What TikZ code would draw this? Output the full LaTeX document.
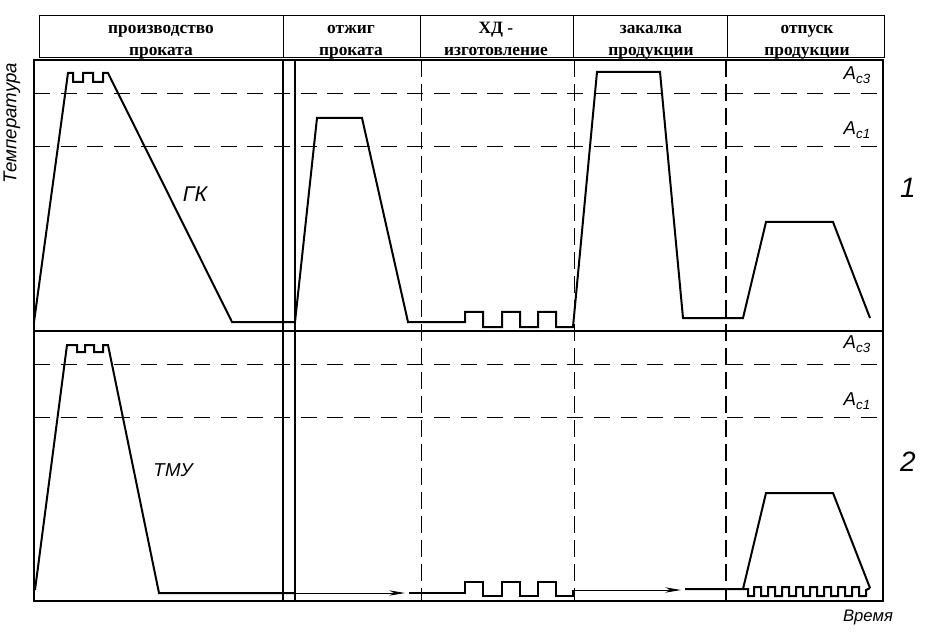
\documentclass[tikz,border=0pt]{standalone}
\usepackage{fontspec}
\setmainfont{Liberation Serif}
\newfontfamily\gostfont{Liberation Sans}
\usetikzlibrary{arrows.meta}

\begin{document}
\begin{tikzpicture}[x=0.75pt,y=-0.75pt,
  framebox/.style={line width=1.5pt},
  headbox/.style={line width=0.75pt},
  curve/.style={line width=1.5pt, line join=miter},
  thinline/.style={line width=0.6pt},
  flowtip/.style={-{Stealth[length=12pt,width=4pt]}},
  hdash/.style={line width=0.6pt, dash pattern=on 12pt off 8pt},
  vdash/.style={line width=0.6pt, dash pattern=on 13pt off 5pt},
  vdashbold/.style={line width=1.3pt, dash pattern=on 13pt off 5pt},
  headtext/.style={font=\fontsize{13}{16.5}\selectfont\bfseries, align=center, inner sep=0pt, anchor=north},
  gost/.style={font=\gostfont\itshape\fontsize{14}{16}\selectfont, inner sep=0pt},
  acpoint/.style={font=\gostfont\itshape\fontsize{14}{16}\selectfont, inner sep=0pt}
]
\useasboundingbox (0,0) rectangle (934,634);

% header
\draw[headbox] (39,16) rectangle (884,58);
\foreach \x in {283,420,573,727}
  \draw[headbox] (\x,16) -- (\x,58);
\node[headtext] (hprod)  at (161,17.6) {\strut производство\\\strut проката};
\node[headtext] (hotzh)  at (351,17.6) {\strut отжиг\\\strut проката};
\node[headtext] (hhd)    at (496,17.6) {\strut ХД -\\\strut изготовление};
\node[headtext] (hzak)   at (651,17.6) {\strut закалка\\\strut продукции};
\node[headtext] (hotp)   at (807,17.6) {\strut отпуск\\\strut продукции};

% critical points
\foreach \y in {93,146,364,417}
  \draw[hdash] (34,\y) -- (883,\y);
\node[acpoint] (ac3a) at (857,75)  {A\raisebox{-0.45ex}{\fontsize{10}{11}\selectfont c3}};
\node[acpoint] (ac1a) at (857,130) {A\raisebox{-0.45ex}{\fontsize{10}{11}\selectfont c1}};
\node[acpoint] (ac3b) at (857,344) {A\raisebox{-0.45ex}{\fontsize{10}{11}\selectfont c3}};
\node[acpoint] (ac1b) at (857,401) {A\raisebox{-0.45ex}{\fontsize{10}{11}\selectfont c1}};

% stage borders
\draw[vdash] (421,60) -- (421,601);
\draw[vdash] (574,60) -- (574,601);
\draw[vdashbold] (726,60) -- (726,601);

% frame
\draw[framebox] (34,60) rectangle (883,601);
\draw[framebox] (34,331) -- (883,331);
\draw[framebox] (283,60) -- (283,601);
\draw[framebox] (295,60) -- (295,601);

% variant 1
\draw[curve] (34,322) -- (68,73) -- (73,73) -- (73,82) -- (83,82) -- (83,73)
  -- (93,73) -- (93,82) -- (103,82) -- (103,73) -- (108,73) -- (232,322)
  -- (295,322) -- (317,118) -- (362,118) -- (408,322) -- (465,322)
  -- (465,312) -- (483,312) -- (483,327) -- (502,327) -- (502,312)
  -- (520,312) -- (520,327) -- (538,327) -- (538,312) -- (556,312)
  -- (556,327) -- (573,327) -- (597,72) -- (660,72) -- (683,318)
  -- (743,318) -- (766,222) -- (833,222) -- (870,318);

% variant 2
\draw[curve] (35,590) -- (67,345) -- (77,345) -- (77,352) -- (85,352) -- (85,345)
  -- (94,345) -- (94,352) -- (103,352) -- (103,345) -- (108,345) -- (159,593)
  -- (295,593);
\draw[thinline,flowtip] (295,593) -- (405,593);
\draw[curve] (409,593) -- (465,593) -- (465,582) -- (483,582) -- (483,596)
  -- (502,596) -- (502,582) -- (520,582) -- (520,596) -- (538,596)
  -- (538,582) -- (556,582) -- (556,596) -- (573,596) -- (573,590);
\draw[thinline,flowtip] (573,590) -- (681,590);
\draw[curve] (685,589) -- (743,589) -- (766,493) -- (833,493) -- (870,588);
\draw[curve] (743,589) -- (748,589) -- (748,596) -- (754,596)
  \foreach \i in {0,...,7} {
    -- ({754+14*\i},587) -- ({761+14*\i},587) -- ({761+14*\i},596) -- ({768+14*\i},596)
  } -- (866,590) -- (870,588);

% labels
\node[gost, font=\gostfont\itshape\fontsize{16}{18}\selectfont] (gk)  at (195,194) {ГК};
\node[gost] (tmu) at (173,470) {ТМУ};
\node[gost, font=\gostfont\itshape\fontsize{21}{24}\selectfont] (n1) at (908,188) {1};
\node[gost, font=\gostfont\itshape\fontsize{21}{24}\selectfont] (n2) at (908,462) {2};
\node[gost, rotate=90] (temp) at (12,123) {Температура};
\node[gost, font=\gostfont\itshape\fontsize{12.5}{14}\selectfont] (time) at (868,617) {Время};
\end{tikzpicture}
\end{document}
